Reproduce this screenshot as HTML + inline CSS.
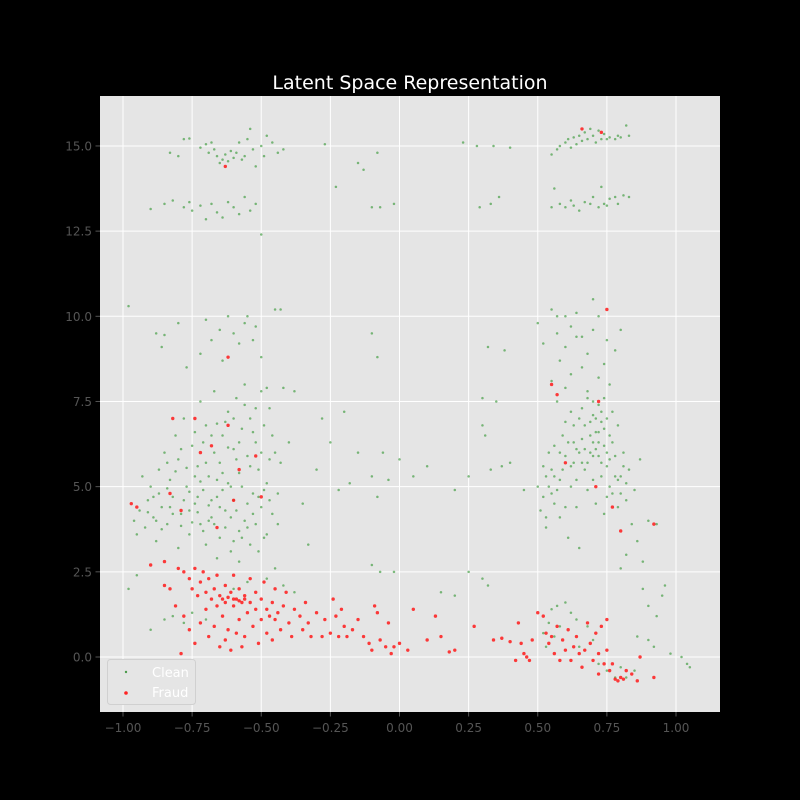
<!DOCTYPE html>
<html><head><meta charset="utf-8"><style>
body{margin:0;background:#000;}
svg{display:block;font-family:"DejaVu Sans","Liberation Sans",sans-serif;}
</style></head><body>
<svg id="chart" width="800" height="800">
<rect width="800" height="800" fill="#000"/>
<text x="410" y="89" fill="#fff" font-size="19" text-anchor="middle">Latent Space Representation</text>
<rect x="100" y="96" width="620" height="616" fill="#e5e5e5"/>
<g id="grid"></g><g id="ticks"></g><g id="clean"></g><g id="fraud"></g>
<g>
<rect x="107.5" y="659.5" width="88" height="45" rx="3" fill="#e5e5e5" stroke="#d0d0d0"/>
<circle cx="126" cy="672" r="1.2" fill="#4a9a4a"/>
<text x="152" y="677" fill="#fff" font-size="13">Clean</text>
<circle cx="126" cy="693" r="1.8" fill="#f22"/>
<text x="152" y="697" fill="#fff" font-size="13">Fraud</text>
</g>
</svg>
<script>
const xTicks=[-1,-0.75,-0.5,-0.25,0,0.25,0.5,0.75,1];
const xTickLabels=["\u22121.00","\u22120.75","\u22120.50","\u22120.25","0.00","0.25","0.50","0.75","1.00"];
const yTicks=[0,2.5,5,7.5,10,12.5,15];
const yTickLabels=["0.0","2.5","5.0","7.5","10.0","12.5","15.0"];
const cleanPts=[[-0.78,15.2],[-0.76,15.22],[-0.72,14.95],[-0.7,15.05],[-0.69,14.8],[-0.67,14.9],[-0.66,14.7],[-0.64,14.6],[-0.63,14.75],[-0.62,14.55],[-0.6,14.65],[-0.59,14.8],[-0.58,15.1],[-0.57,14.6],[-0.56,14.7],[-0.55,15.2],[-0.53,14.9],[-0.52,14.4],[-0.5,15.0],[-0.49,14.7],[-0.48,15.3],[-0.46,15.1],[-0.44,14.8],[-0.42,14.9],[-0.65,14.5],[-0.61,14.85],[-0.54,15.5],[-0.83,14.8],[-0.8,14.7],[-0.68,15.1],
[-0.9,13.15],[-0.85,13.3],[-0.82,13.4],[-0.78,13.2],[-0.75,13.1],[-0.72,13.25],[-0.68,13.3],[-0.66,13.05],[-0.64,12.9],[-0.62,13.35],[-0.6,13.2],[-0.58,13.0],[-0.56,13.5],[-0.54,13.1],[-0.52,13.3],[-0.5,12.4],[-0.7,12.85],[-0.76,13.35],
[0.55,14.75],[0.57,14.9],[0.58,15.0],[0.6,15.1],[0.61,15.2],[0.62,14.95],[0.63,15.25],[0.65,15.3],[0.66,15.15],[0.67,15.4],[0.68,15.2],[0.7,15.3],[0.71,15.1],[0.72,15.45],[0.73,15.2],[0.74,15.35],[0.75,15.2],[0.76,15.25],[0.78,15.2],[0.79,15.3],[0.8,15.25],[0.82,15.6],[0.83,15.3],[0.64,15.05],[0.69,15.5],
[0.55,13.2],[0.58,13.3],[0.6,13.2],[0.62,13.4],[0.63,13.25],[0.65,13.1],[0.67,13.35],[0.69,13.3],[0.7,13.5],[0.72,13.2],[0.74,13.3],[0.75,13.25],[0.76,13.45],[0.78,13.5],[0.79,13.3],[0.81,13.55],[0.83,13.5],[0.56,13.75],[0.73,13.8],
[-0.27,15.05],[-0.15,14.5],[-0.13,14.3],[-0.08,14.8],[-0.1,13.2],[-0.07,13.2],[0.23,15.1],[0.28,15.0],[0.34,15.0],[0.4,14.95],[0.29,13.2],[0.33,13.3],[0.36,13.5],[-0.23,13.8],[-0.02,13.3],
[-0.98,10.3],[-0.88,9.5],[-0.85,9.45],[-0.8,9.8],[-0.77,8.5],[-0.7,9.9],[-0.68,9.3],[-0.65,9.6],[-0.62,10.0],[-0.6,9.5],[-0.58,9.2],[-0.56,9.8],[-0.55,10.0],[-0.53,9.3],[-0.52,9.7],[-0.5,8.8],[-0.45,10.2],[-0.43,10.2],[-0.86,9.1],[-0.72,8.9],[-0.64,8.7],
[-0.96,4.0],[-0.95,3.6],[-0.94,4.3],[-0.92,3.8],[-0.91,4.6],[-0.9,5.0],[-0.89,4.1],[-0.88,3.4],[-0.87,5.5],[-0.86,4.4],[-0.85,6.0],[-0.84,3.9],[-0.83,5.2],[-0.82,4.7],[-0.81,6.5],[-0.8,3.2],[-0.8,5.8],[-0.79,4.2],[-0.78,7.0],[-0.77,5.0],[-0.76,3.6],[-0.75,6.2],[-0.74,4.5],[-0.73,5.6],[-0.72,7.5],[-0.72,3.9],[-0.71,4.9],[-0.7,6.8],[-0.7,3.3],[-0.69,5.3],[-0.68,4.1],[-0.67,6.0],[-0.67,7.8],[-0.66,4.7],[-0.65,3.5],[-0.65,5.7],[-0.64,6.5],[-0.63,4.3],[-0.62,7.2],[-0.62,5.1],[-0.61,3.1],[-0.6,6.1],[-0.6,4.6],[-0.59,7.6],[-0.58,5.4],[-0.58,3.7],[-0.57,6.7],[-0.56,4.0],[-0.56,8.0],[-0.55,5.9],[-0.54,3.3],[-0.54,7.0],[-0.53,4.8],[-0.52,6.3],[-0.52,3.9],[-0.51,5.5],[-0.5,7.8],[-0.5,4.4],[-0.49,6.8],[-0.48,3.6],[-0.48,5.1],[-0.47,7.3],[-0.46,4.2],[-0.45,6.0],[-0.44,3.9],[-0.43,5.7],[-0.42,7.9],[-0.4,6.3],[-0.93,5.3],[-0.87,4.8],[-0.84,5.7],[-0.79,6.1],[-0.76,4.3],[-0.74,5.3],[-0.71,6.3],[-0.69,4.0],[-0.66,5.2],[-0.63,6.9],[-0.61,4.1],[-0.59,5.8],[-0.57,3.5],[-0.55,4.5],[-0.53,6.6],[-0.51,3.1],[-0.49,4.9],[-0.47,5.8],[-0.68,4.6],[-0.73,4.7],[-0.78,4.6],[-0.83,4.4],[-0.88,4.0],[-0.64,4.9],[-0.6,3.4],[-0.66,2.9],[-0.58,2.8],
[-0.91,4.25],[-0.89,4.7],[-0.86,3.75],[-0.84,4.95],[-0.82,4.2],[-0.81,5.45],[-0.79,3.85],[-0.77,5.55],[-0.76,4.85],[-0.75,3.95],[-0.74,6.6],[-0.73,4.25],[-0.72,5.15],[-0.71,3.7],[-0.7,5.7],[-0.69,4.45],[-0.68,6.5],[-0.67,3.9],[-0.66,6.85],[-0.65,4.4],[-0.64,5.4],[-0.63,3.8],[-0.62,6.15],[-0.61,5.0],[-0.6,7.0],[-0.59,4.3],[-0.58,6.3],[-0.57,5.0],[-0.56,7.4],[-0.55,3.8],[-0.54,5.6],[-0.53,4.2],[-0.52,7.3],[-0.51,4.7],[-0.5,6.0],[-0.49,3.5],[-0.48,7.9],[-0.47,4.6],[-0.46,6.5],[-0.44,4.8],
[-0.85,1.1],[-0.82,1.2],[-0.78,1.0],[-0.75,1.3],[-0.7,1.1],[-0.9,0.8],[-0.6,2.0],[-0.55,2.2],[-0.48,2.3],[-0.42,2.1],[-0.38,1.9],[-0.45,2.6],[-0.95,2.4],[-0.98,2.0],
[-0.33,3.3],[-0.3,5.5],[-0.28,7.0],[-0.25,6.3],[-0.22,4.9],[-0.2,7.2],[-0.18,5.1],[-0.15,6.0],[-0.1,5.3],[-0.08,4.7],[-0.06,6.0],[-0.04,5.2],[-0.1,2.7],[-0.07,2.5],[-0.02,2.5],[-0.08,8.8],[-0.1,9.5],[0.0,5.8],[0.05,5.3],[0.25,2.5],[0.3,2.3],[0.32,2.1],[0.2,4.9],[0.25,5.3],[0.3,6.8],[0.31,6.5],[0.33,5.5],[0.35,7.5],[0.38,9.0],[0.32,9.1],[0.3,7.6],[0.4,5.7],[0.37,5.6],[0.45,4.9],[0.2,1.8],[0.1,5.6],[0.15,1.9],[-0.35,4.5],[-0.38,7.8],
[0.5,9.8],[0.52,9.2],[0.55,10.2],[0.57,9.5],[0.6,10.0],[0.62,9.7],[0.64,10.1],[0.66,9.4],[0.7,10.5],[0.72,10.0],[0.75,9.3],[0.78,9.0],[0.8,9.6],[0.58,8.7],[0.62,8.3],[0.68,8.9],[0.74,8.6],[0.76,8.0],
[0.5,5.0],[0.51,4.3],[0.52,5.6],[0.53,3.8],[0.54,6.0],[0.55,4.8],[0.56,5.3],[0.57,7.5],[0.58,4.1],[0.59,6.5],[0.6,5.9],[0.61,3.5],[0.62,7.2],[0.62,5.0],[0.63,6.3],[0.64,4.4],[0.65,7.0],[0.65,3.2],[0.66,5.7],[0.67,6.8],[0.68,4.9],[0.68,7.6],[0.69,6.0],[0.7,5.2],[0.7,7.1],[0.71,6.6],[0.71,4.5],[0.72,5.9],[0.72,7.4],[0.73,6.9],[0.73,5.3],[0.74,6.2],[0.74,4.2],[0.75,7.0],[0.75,5.6],[0.76,6.5],[0.77,4.8],[0.77,7.2],[0.78,5.9],[0.79,4.4],[0.8,5.3],[0.81,6.0],[0.82,4.6],[0.83,5.5],[0.84,3.9],[0.85,4.9],[0.86,3.4],[0.88,2.8],[0.87,5.8],[0.9,4.0],[0.93,3.9],[0.6,6.9],[0.64,6.1],[0.66,6.4],[0.69,6.9],[0.7,6.3],[0.72,6.6],[0.67,5.5],[0.63,5.7],[0.58,5.2],[0.56,4.5],[0.54,5.0],[0.76,5.0],[0.79,5.2],[0.74,7.6],[0.68,7.8],[0.6,7.9],[0.55,8.1],[0.53,4.1],
[0.52,4.7],[0.53,5.3],[0.55,5.5],[0.56,6.2],[0.57,4.9],[0.58,6.0],[0.59,5.5],[0.6,4.4],[0.61,6.3],[0.62,5.6],[0.63,6.8],[0.64,5.2],[0.65,6.0],[0.66,7.3],[0.67,6.1],[0.68,5.7],[0.69,6.5],[0.7,5.9],[0.7,7.5],[0.71,6.1],[0.71,7.0],[0.72,6.3],[0.73,5.7],[0.73,7.2],[0.74,6.7],[0.75,6.0],[0.75,4.7],[0.76,5.8],[0.77,6.3],[0.78,5.3],[0.79,6.8],[0.8,4.8],[0.81,5.6],[0.82,5.1],[0.6,9.1],[0.64,9.4],[0.7,9.6],[0.57,10.0],[0.66,8.5],[0.72,8.2],
[0.88,2.0],[0.9,1.5],[0.93,1.2],[0.96,2.1],[0.95,1.8],[0.9,0.5],[0.92,0.3],[0.98,0.1],[1.02,0.0],[1.04,-0.2],[1.05,-0.3],[0.85,-0.4],[0.86,0.6],[0.82,3.0],[0.8,2.6],
[0.52,0.7],[0.54,1.0],[0.55,1.4],[0.57,1.5],[0.58,0.9],[0.6,1.6],[0.62,1.3],[0.64,1.1],[0.65,0.3],[0.68,0.9],[0.53,0.3],[0.56,0.6],[0.7,0.5],[0.72,-0.2],[0.75,-0.4],[0.78,-0.6],[0.8,-0.3],[0.82,-0.6]];
const fraudPts=[[-0.97,4.5],[-0.95,4.4],[-0.83,4.8],[-0.79,4.3],[-0.82,7.0],[-0.74,7.0],[-0.72,6.0],[-0.68,6.2],[-0.62,6.8],[-0.62,8.8],[-0.58,5.5],[-0.5,4.7],[-0.52,5.9],[-0.6,4.6],[-0.66,3.8],
[-0.9,2.7],[-0.85,2.8],[-0.85,2.1],[-0.8,2.6],[-0.78,2.5],[-0.76,2.3],[-0.75,2.0],[-0.74,2.6],[-0.73,1.8],[-0.72,2.2],[-0.71,2.5],[-0.7,1.9],[-0.7,1.4],[-0.69,2.3],[-0.68,1.7],[-0.67,2.0],[-0.66,1.5],[-0.66,2.4],[-0.65,1.8],[-0.64,1.2],[-0.63,2.1],[-0.63,1.6],[-0.62,0.8],[-0.61,1.9],[-0.6,1.5],[-0.6,2.4],[-0.59,1.7],[-0.58,1.1],[-0.58,2.0],[-0.57,1.6],[-0.56,0.6],[-0.56,1.8],[-0.55,1.3],[-0.54,2.3],[-0.54,1.6],[-0.53,0.9],[-0.52,1.9],[-0.52,1.4],[-0.51,0.4],[-0.5,1.7],[-0.5,1.1],[-0.49,2.2],[-0.48,1.4],[-0.48,0.7],[-0.47,1.2],[-0.46,1.6],[-0.46,0.5],[-0.45,1.1],[-0.45,2.0],[-0.44,1.3],[-0.43,0.8],[-0.42,1.5],[-0.41,1.9],[-0.4,1.0],[-0.39,0.6],[-0.38,1.4],[-0.36,1.2],[-0.35,0.8],[-0.34,1.6],[-0.33,1.0],[-0.78,1.2],[-0.76,0.8],[-0.74,0.4],[-0.72,1.0],[-0.69,0.6],[-0.67,0.9],[-0.65,0.3],[-0.63,0.5],[-0.61,0.2],[-0.59,0.7],[-0.57,0.3],[-0.79,0.1],[-0.83,2.0],[-0.81,1.5],[-0.64,1.7],[-0.6,1.7],[-0.56,1.7],[-0.62,1.75],[-0.58,1.65],
[-0.32,0.6],[-0.3,1.3],[-0.28,0.6],[-0.27,1.1],[-0.25,0.7],[-0.24,1.7],[-0.23,1.2],[-0.22,0.6],[-0.21,1.4],[-0.2,0.9],[-0.19,0.6],[-0.17,0.8],[-0.15,1.1],[-0.13,0.6],[-0.11,0.4],[-0.1,0.2],[-0.09,1.5],[-0.08,1.3],[-0.07,0.5],[-0.05,0.3],[-0.04,1.0],[-0.03,0.1],[-0.02,0.3],[0.0,0.4],[0.03,0.2],[0.05,1.4],[0.1,0.5],[0.13,1.2],[0.15,0.6],[0.18,0.15],[0.2,0.2],[0.27,0.9],
[0.34,0.5],[0.37,0.55],[0.4,0.45],[0.42,-0.1],[0.43,1.0],[0.44,0.4],[0.45,0.1],[0.46,0.0],[0.47,-0.1],[0.48,0.5],[0.5,1.3],[0.52,1.2],[0.53,0.7],[0.54,0.4],[0.55,0.6],[0.56,0.1],[0.57,0.9],[0.58,-0.1],[0.59,0.5],[0.6,0.2],[0.61,0.8],[0.62,-0.1],[0.63,0.3],[0.64,0.6],[0.65,0.1],[0.66,-0.3],[0.67,0.2],[0.68,1.0],[0.69,0.4],[0.7,-0.1],[0.71,0.7],[0.72,0.1],[0.72,-0.5],[0.73,0.9],[0.74,-0.2],[0.75,0.2],[0.76,-0.4],[0.77,-0.2],[0.78,-0.65],[0.79,-0.7],[0.8,-0.6],[0.81,-0.65],[0.82,-0.4],[0.84,-0.5],[0.86,-0.7],[0.87,0.0],[0.92,-0.6],[0.75,1.1],
[0.55,8.0],[0.57,7.7],[0.6,5.7],[0.72,7.5],[0.71,5.0],[0.75,10.2],[0.77,4.4],[0.92,3.9],[0.8,3.7],[0.73,15.4],[0.66,15.5],[-0.63,14.4]];

const NS="http://www.w3.org/2000/svg";
function sx(v){return 399.5+v*276.5;}
function sy(v){return 657-v*34.07;}
function mk(tag,attrs,parent){const e=document.createElementNS(NS,tag);for(const k in attrs)e.setAttribute(k,attrs[k]);parent.appendChild(e);return e;}
const grid=document.getElementById('grid'),ticks=document.getElementById('ticks');
xTicks.forEach((t,i)=>{
  const l=mk('line',{x1:sx(t),x2:sx(t),y1:96,y2:712,stroke:'#fff','stroke-width':1},grid);
  
  
  const tk=mk('line',{x1:sx(t),x2:sx(t),y1:712,y2:716.5,stroke:'#555'},ticks);
  
  
  const tx=mk('text',{x:sx(t),y:732,fill:'#555','font-size':12,'text-anchor':'middle'},ticks);
  tx.textContent=xTickLabels[i];
  
  
});
yTicks.forEach((t,i)=>{
  const l=mk('line',{x1:100,x2:720,y1:sy(t),y2:sy(t),stroke:'#fff','stroke-width':1},grid);
  
  
  const tk=mk('line',{x1:95.5,x2:100,y1:sy(t),y2:sy(t),stroke:'#555'},ticks);
  
  
  const tx=mk('text',{x:92,y:sy(t)+4.5,fill:'#555','font-size':12,'text-anchor':'end'},ticks);
  tx.textContent=yTickLabels[i];
  
  
});
const cg=document.getElementById('clean'),fg=document.getElementById('fraud');
cleanPts.forEach(p=>{
  const c=mk('circle',{cx:sx(p[0]),cy:sy(p[1]),r:1.25,fill:'#3a9a3a','fill-opacity':0.65},cg);
  
  
});
fraudPts.forEach(p=>{
  const c=mk('circle',{cx:sx(p[0]),cy:sy(p[1]),r:1.7,fill:'#ff1a1a','fill-opacity':0.85},fg);
  
  
});
</script>
</body></html>
